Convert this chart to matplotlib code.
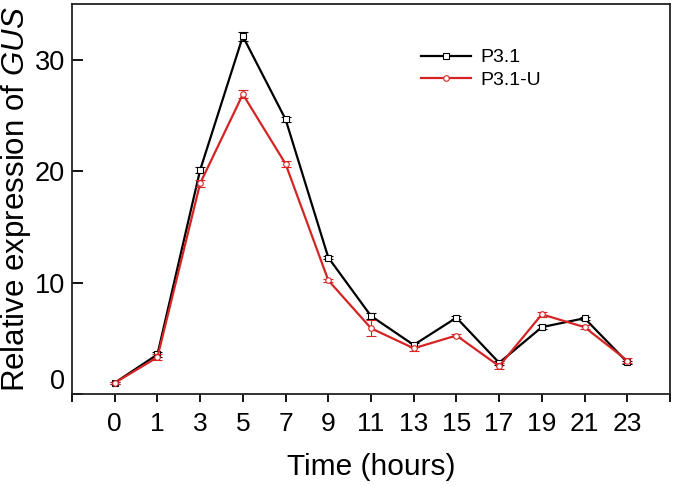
import matplotlib
matplotlib.use("Agg")
from matplotlib import pyplot as plt
from matplotlib import transforms
from matplotlib.lines import Line2D

plt.rcParams['font.family'] = ['Liberation Sans', 'DejaVu Sans']
plt.rcParams['mathtext.fontset'] = 'custom'
plt.rcParams['mathtext.rm'] = 'Liberation Sans'
plt.rcParams['mathtext.it'] = 'Liberation Sans:italic'

hours = ["0", "1", "3", "5", "7", "9", "11", "13", "15", "17", "19", "21", "23"]
p31 = [1.0, 3.55, 20.1, 32.1, 24.65, 12.25, 7.0, 4.4, 6.85, 2.8, 6.0, 6.8, 2.85]
p31_err = [0.1, 0.2, 0.3, 0.4, 0.2, 0.15, 0.25, 0.15, 0.15, 0.2, 0.15, 0.15, 0.15]
p31u = [1.0, 3.3, 18.9, 26.9, 20.65, 10.2, 5.9, 4.1, 5.25, 2.5, 7.15, 6.0, 3.0]
p31u_err = [0.1, 0.25, 0.3, 0.35, 0.25, 0.15, 0.7, 0.2, 0.15, 0.25, 0.2, 0.2, 0.2]
yticks = [0, 10, 20, 30]

red = "#d42424"
x = list(range(len(hours)))

fig = plt.figure(figsize=(6.77, 4.86), dpi=100)
ax = fig.add_axes([72/677, (486-394)/486, 598/677, 390/486])

ax.errorbar(x, p31, yerr=p31_err, color="black", lw=1.6, marker="s", ms=4.5,
            mfc="white", mec="black", mew=0.8, ecolor="black", elinewidth=0.8,
            capsize=3.5, capthick=0.8, zorder=3)
ax.errorbar(x, p31u, yerr=p31u_err, color=red, lw=1.6, marker="o", ms=4,
            mfc="white", mec=red, mew=0.8, ecolor=red, elinewidth=0.8,
            capsize=3.5, capthick=0.8, zorder=4)

ax.set_xlim(-1, 13)
ax.set_ylim(0, 35)
ax.set_xticks(list(range(-1, 14)))
ax.set_xticklabels([""] + hours + [""])
ax.set_yticks(yticks)
ax.set_yticklabels([str(v) for v in yticks])
ax.tick_params(axis="x", direction="out", length=6, width=1.3, labelsize=19, pad=7)
ax.tick_params(axis="y", direction="in", length=8, width=1.3, labelsize=19.5, pad=5)
for s in ax.spines.values():
    s.set_linewidth(1.3)
    s.set_color("#222222")

# lift the 0 label off the corner like the original
lab0 = ax.get_yticklabels()[0]
lab0.set_transform(lab0.get_transform() + transforms.ScaledTranslation(0, 15/100, fig.dpi_scale_trans))

ax.set_xlabel("Time (hours)", fontsize=21.5, labelpad=12)
ax.set_ylabel("Relative expression of $\\it{GUS}$", fontsize=22.5, labelpad=1)

handles = [
    Line2D([], [], color="black", lw=1.6, marker="s", ms=4.5, mfc="white", mec="black", mew=0.8),
    Line2D([], [], color=red, lw=1.6, marker="o", ms=4, mfc="white", mec=red, mew=0.8),
]
ax.legend(handles, ["P3.1", "P3.1-U"], loc="upper left", bbox_to_anchor=(0.567, 0.91),
          frameon=False, fontsize=14, handlelength=2.6, handletextpad=0.45,
          labelspacing=0.25, borderpad=0)

fig.savefig("out.png", dpi=100)
